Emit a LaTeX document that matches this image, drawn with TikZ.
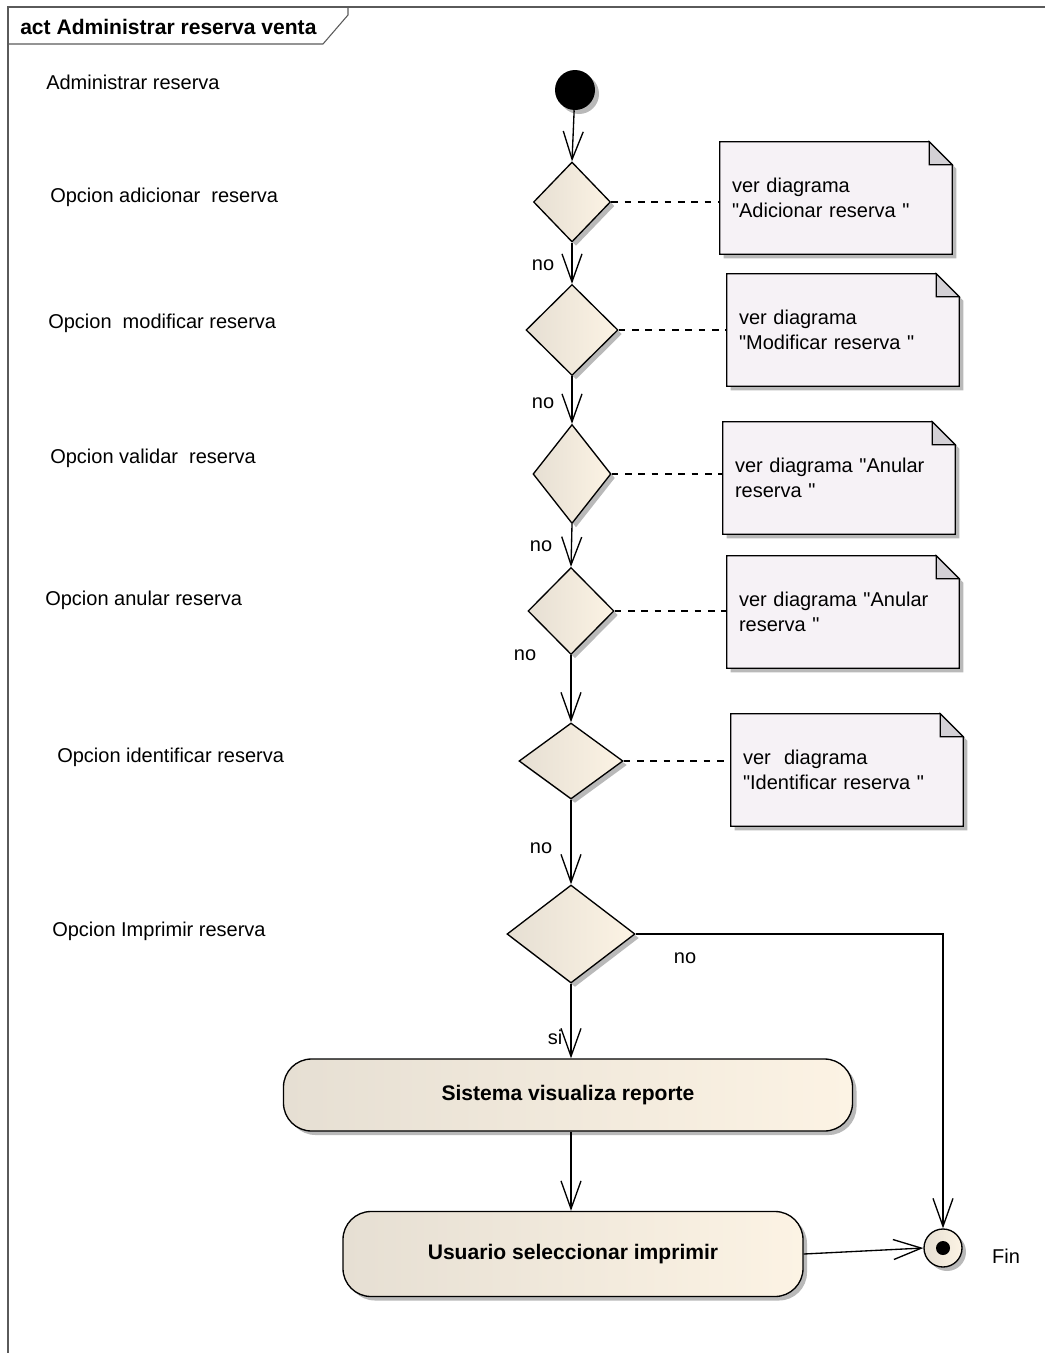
\documentclass[tikz,border=0pt]{standalone}
\usepackage{fontspec}
\setmainfont{Liberation Sans}[Ligatures=TeXOff]
\usetikzlibrary{shapes.geometric,arrows.meta,shadows,backgrounds,calc}
\definecolor{fillL}{RGB}{230,223,211}
\definecolor{fillR}{RGB}{252,243,228}
\definecolor{notefill}{RGB}{246,242,246}
\definecolor{foldfill}{RGB}{211,208,213}
\definecolor{shadowc}{RGB}{185,185,185}
\definecolor{framec}{RGB}{90,90,90}
\newcommand\NoteOutline[1]{%
  \draw[line width=1pt, fill=notefill, drop shadow={shadow xshift=3pt, shadow yshift=-3pt, fill=shadowc, opacity=1}]
    (#1.north west) -- ([xshift=-17.25pt]#1.north east) -- ([yshift=-17.25pt]#1.north east)
    -- (#1.south east) -- (#1.south west) -- cycle;
  \draw[line width=1pt, fill=foldfill]
    ([xshift=-17.25pt]#1.north east) -- ([yshift=-17.25pt]#1.north east)
    -- ([xshift=-17.25pt,yshift=-17.25pt]#1.north east) -- cycle;
}
\begin{document}
\begin{tikzpicture}[x=0.75pt,y=-0.75pt,
  txt/.style={font=\fontsize{15}{18.75}\selectfont, inner sep=0pt},
  lbl/.style={txt, anchor=west},
  dec/.style={diamond, draw, line width=1pt, inner sep=0pt, left color=fillL, right color=fillR,
     drop shadow={shadow xshift=3pt, shadow yshift=-3pt, fill=shadowc, opacity=1}},
  notebox/.style={txt, inner xsep=9pt, text width=156pt, align=left, minimum height=84pt},
  act/.style={rectangle, rounded corners=21pt, draw, line width=1pt, left color=fillL, right color=fillR,
     font=\bfseries\fontsize{15.8}{18}\selectfont,
     drop shadow={shadow xshift=3pt, shadow yshift=-3pt, fill=shadowc, opacity=1}},
  flow/.style={line width=1pt, -{Straight Barb[length=21pt,width=15pt,line width=1pt]}},
  link/.style={line width=1pt, dash pattern=on 5pt off 5pt},
  frameline/.style={draw=framec, line width=0.8pt}
]
\useasboundingbox (0,0) rectangle (1045,1353);

% frame
\draw[frameline] (8,1353) -- (8,7) -- (1045,7);
\draw[frameline] (8,44) -- (323,44) -- (348,15) -- (348,7);
\node[txt, anchor=west, font=\bfseries\fontsize{15.8}{18}\selectfont] (title) at (20,27) {act Administrar reserva venta};

% left labels
\node[lbl] (l0) at (46,82) {Administrar reserva};
\node[lbl] (l1) at (50,197) {Opcion adicionar\ \ reserva};
\node[lbl] (l2) at (48,323) {Opcion\ \ modificar reserva};
\node[lbl] (l3) at (50,458) {Opcion validar\ \ reserva};
\node[lbl] (l4) at (45,600) {Opcion anular reserva};
\node[lbl] (l5) at (57,757) {Opcion identificar reserva};
\node[lbl] (l6) at (52,931) {Opcion Imprimir reserva};

% start
\node[circle, fill=black, minimum size=30pt, inner sep=0pt,
      drop shadow={shadow xshift=3pt, shadow yshift=-3pt, fill=shadowc, opacity=1}] (start) at (575,90) {};

% decisions
\node[dec, minimum width=57.75pt, minimum height=60pt] (d1) at (572,202) {};
\node[dec, minimum width=69pt, minimum height=68.25pt] (d2) at (572,330) {};
\node[dec, minimum width=58.5pt, minimum height=74.25pt] (d3) at (572,474) {};
\node[dec, minimum width=64.5pt, minimum height=65.25pt] (d4) at (571,611) {};
\node[dec, minimum width=78pt, minimum height=57pt] (d5) at (571,761) {};
\node[dec, minimum width=96pt, minimum height=73.5pt] (d6) at (571,934) {};

% notes
\node[notebox] (n1) at (836,198) {ver diagrama\\"Adicionar reserva "};
\node[notebox] (n2) at (843,330) {ver diagrama\\"Modificar reserva "};
\node[notebox] (n3) at (839,478) {ver diagrama "Anular\\reserva "};
\node[notebox] (n4) at (843,612) {ver diagrama "Anular\\reserva "};
\node[notebox] (n5) at (847,770) {ver\ \ diagrama\\"Identificar reserva "};
\begin{scope}[on background layer]
\NoteOutline{n1}
\NoteOutline{n2}
\NoteOutline{n3}
\NoteOutline{n4}
\NoteOutline{n5}
\end{scope}

\draw[link] (d1.east) -- (d1.east -| n1.west);
\draw[link] (d2.east) -- (d2.east -| n2.west);
\draw[link] (d3.east) -- (d3.east -| n3.west);
\draw[link] (d4.east) -- (d4.east -| n4.west);
\draw[link] (d5.east) -- (d5.east -| n5.west);

% activities
\node[act, minimum width=426.75pt, minimum height=54pt] (a1) at (568,1095) {Sistema visualiza reporte};
\node[act, minimum width=345pt, minimum height=63.75pt] (a2) at (573,1254) {Usuario seleccionar imprimir};

% final
\node[circle, draw, line width=1pt, minimum size=28.5pt, inner sep=0pt, left color=fillL, right color=fillR,
      drop shadow={shadow xshift=3pt, shadow yshift=-3pt, fill=shadowc, opacity=1}] (fin) at (943,1248) {};
\node[circle, fill=black, minimum size=10.5pt, inner sep=0pt] (findot) at (fin.center) {};
\node[txt] (finlbl) at (1006,1256) {Fin};

% flows
\draw[flow] (start) -- (d1.north);
\draw[flow] (d1.south) -- (d2.north);
\draw[flow] (d2.south) -- (d3.north);
\draw[flow] (d3.south) -- (d4.north);
\draw[flow] (d4.south) -- (d5.north);
\draw[flow] (d5.south) -- (d6.north);
\draw[flow] (d6.south) -- (d6.south |- a1.north);
\draw[flow] (d6.south |- a1.south) -- (d6.south |- a2.north);
\draw[flow] (d6.east) -| (fin.north);
\draw[flow] (a2.east) -- (fin.west);

% guard labels
\node[txt] (no1) at (543,265) {no};
\node[txt] (no2) at (543,403) {no};
\node[txt] (no3) at (541,546) {no};
\node[txt] (no4) at (525,655) {no};
\node[txt] (no5) at (541,848) {no};
\node[txt] (no6) at (685,958) {no};
\node[txt] (si) at (555,1037) {si};
\end{tikzpicture}
\end{document}
